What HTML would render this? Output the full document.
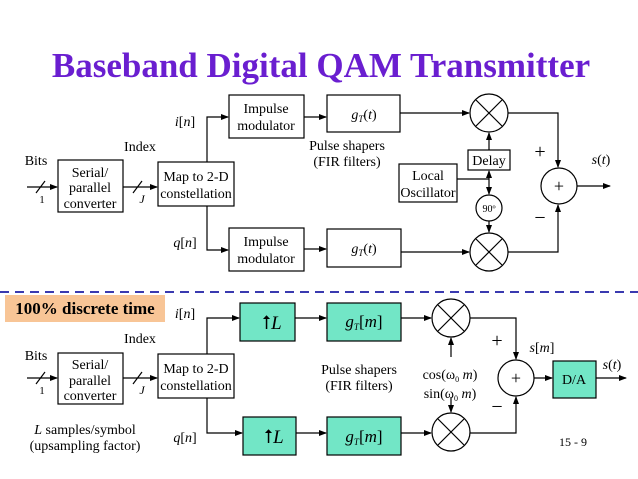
<!DOCTYPE html>
<html><head><meta charset="utf-8"><style>
body{margin:0;background:#fff}
svg{display:block;font-family:"Liberation Serif",serif}
</style></head><body>
<svg width="638" height="479" viewBox="0 0 638 479" xmlns="http://www.w3.org/2000/svg">
<defs><marker id="a" markerWidth="8" markerHeight="6" refX="7" refY="3" orient="auto" markerUnits="userSpaceOnUse"><path d="M0,0 L8,3 L0,6z" fill="#000"/></marker></defs>
<text x="321" y="77" text-anchor="middle" font-size="35" font-weight="bold" fill="#6a1ed0">Baseband Digital QAM Transmitter</text>
<g stroke="#000" stroke-width="1.2" fill="none">
<!-- top -->
<line x1="27" y1="187" x2="57" y2="187" marker-end="url(#a)"/><line x1="36" y1="193" x2="45" y2="181"/>
<rect x="58" y="160" width="65" height="52" fill="#fff"/>
<line x1="123" y1="187" x2="157" y2="187" marker-end="url(#a)"/><line x1="133" y1="193" x2="142" y2="181"/>
<rect x="158" y="162" width="76" height="44"/>
<polyline points="207,162 207,117 228,117" marker-end="url(#a)"/>
<polyline points="207,206 207,250 228,250" marker-end="url(#a)"/>
<rect x="229" y="95" width="75" height="43"/><rect x="229" y="228" width="75" height="43"/>
<line x1="304" y1="117" x2="326" y2="117" marker-end="url(#a)"/>
<line x1="304" y1="249" x2="326" y2="249" marker-end="url(#a)"/>
<rect x="327" y="95" width="73" height="37"/><rect x="327" y="229" width="74" height="38"/>
<line x1="400" y1="113" x2="469" y2="113" marker-end="url(#a)"/>
<line x1="401" y1="252" x2="469" y2="252" marker-end="url(#a)"/>
<circle cx="489" cy="113" r="19"/><line x1="476" y1="100" x2="502" y2="126"/><line x1="502" y1="100" x2="476" y2="126"/>
<circle cx="489" cy="252" r="19"/><line x1="476" y1="239" x2="502" y2="265"/><line x1="502" y1="239" x2="476" y2="265"/>
<rect x="468" y="150" width="42" height="20"/>
<rect x="399" y="164" width="58" height="38"/>
<polyline points="457,179 489,179"/>
<line x1="489" y1="179" x2="489" y2="171" marker-end="url(#a)"/>
<line x1="489" y1="150" x2="489" y2="133" marker-end="url(#a)"/>
<line x1="489" y1="179" x2="489" y2="194" marker-end="url(#a)"/>
<circle cx="489" cy="208" r="13"/>
<line x1="489" y1="221" x2="489" y2="232" marker-end="url(#a)"/>
<polyline points="508,113 558,113 558,167" marker-end="url(#a)"/>
<polyline points="508,252 558,252 558,205" marker-end="url(#a)"/>
<circle cx="559" cy="186" r="18"/>
<line x1="577" y1="186" x2="610" y2="186" marker-end="url(#a)"/>
</g>
<line x1="0" y1="292" x2="638" y2="292" stroke="#3a3ab0" stroke-width="2" stroke-dasharray="9,6"/>
<g stroke="#000" stroke-width="1.2" fill="none">
<line x1="27" y1="378" x2="57" y2="378" marker-end="url(#a)"/><line x1="36" y1="384" x2="45" y2="372"/>
<rect x="58" y="353" width="65" height="51"/>
<line x1="123" y1="378" x2="157" y2="378" marker-end="url(#a)"/><line x1="133" y1="384" x2="142" y2="372"/>
<rect x="158" y="354" width="76" height="44"/>
<polyline points="207,354 207,318 239,318" marker-end="url(#a)"/>
<polyline points="207,398 207,433 242,433" marker-end="url(#a)"/>
<rect x="240" y="303" width="55" height="38" fill="#72e6c6"/>
<rect x="243" y="417" width="53" height="38" fill="#72e6c6"/>
<line x1="295" y1="318" x2="326" y2="318" marker-end="url(#a)"/>
<line x1="296" y1="433" x2="326" y2="433" marker-end="url(#a)"/>
<rect x="327" y="303" width="74" height="38" fill="#72e6c6"/>
<rect x="327" y="417" width="74" height="38" fill="#72e6c6"/>
<line x1="401" y1="318" x2="431" y2="318" marker-end="url(#a)"/>
<line x1="401" y1="433" x2="431" y2="433" marker-end="url(#a)"/>
<circle cx="451" cy="318" r="19"/><line x1="438" y1="305" x2="464" y2="331"/><line x1="464" y1="305" x2="438" y2="331"/>
<circle cx="451" cy="432" r="19"/><line x1="438" y1="419" x2="464" y2="445"/><line x1="464" y1="419" x2="438" y2="445"/>
<line x1="451" y1="357" x2="451" y2="338" marker-end="url(#a)"/>
<line x1="451" y1="398" x2="451" y2="412" marker-end="url(#a)"/>
<polyline points="470,318 516,318 516,359" marker-end="url(#a)"/>
<polyline points="470,433 516,433 516,397" marker-end="url(#a)"/>
<circle cx="516" cy="378" r="18"/>
<line x1="534" y1="378" x2="552" y2="378" marker-end="url(#a)"/>
<rect x="553" y="361" width="43" height="37" fill="#72e6c6"/>
<line x1="596" y1="378" x2="626" y2="378" marker-end="url(#a)"/>
</g>
<rect x="5" y="295" width="160" height="27" fill="#f8c596"/>
<g font-size="14" text-anchor="middle">
<text x="36" y="165">Bits</text><text x="42" y="203" font-size="11">1</text>
<text x="90" y="177">Serial/</text><text x="90" y="192">parallel</text><text x="90" y="208">converter</text>
<text x="140" y="151">Index</text><text x="142" y="203" font-style="italic" font-size="12">J</text>
<text x="196" y="181">Map to 2-D</text><text x="196" y="198">constellation</text>
<text x="185" y="126" font-style="italic">i<tspan font-style="normal">[</tspan>n<tspan font-style="normal">]</tspan></text>
<text x="185" y="247" font-style="italic">q<tspan font-style="normal">[</tspan>n<tspan font-style="normal">]</tspan></text>
<text x="266" y="113">Impulse</text><text x="266" y="130">modulator</text>
<text x="266" y="246">Impulse</text><text x="266" y="263">modulator</text>
<text x="364" y="119" font-style="italic">g<tspan font-size="9" dy="3">T</tspan><tspan dy="-3" font-style="normal">(</tspan>t<tspan font-style="normal">)</tspan></text>
<text x="364" y="253" font-style="italic">g<tspan font-size="9" dy="3">T</tspan><tspan dy="-3" font-style="normal">(</tspan>t<tspan font-style="normal">)</tspan></text>
<text x="347" y="150">Pulse shapers</text><text x="347" y="166">(FIR filters)</text>
<text x="489" y="165">Delay</text>
<text x="428" y="180">Local</text><text x="428" y="197">Oscillator</text>
<text x="489" y="212" font-size="10">90º</text>
<text x="559" y="192" font-size="18">+</text>
<text x="540" y="158" font-size="20">+</text><text x="540" y="224" font-size="20">−</text>
<text x="601" y="164"><tspan font-style="italic">s</tspan>(<tspan font-style="italic">t</tspan>)</text>
<text x="85" y="314" font-size="17" font-weight="bold">100% discrete time</text>
<text x="185" y="318" font-style="italic">i<tspan font-style="normal">[</tspan>n<tspan font-style="normal">]</tspan></text>
<text x="185" y="442" font-style="italic">q<tspan font-style="normal">[</tspan>n<tspan font-style="normal">]</tspan></text>
<text x="140" y="343">Index</text><text x="36" y="360">Bits</text><text x="42" y="394" font-size="11">1</text>
<text x="90" y="369">Serial/</text><text x="90" y="385">parallel</text><text x="90" y="400">converter</text>
<text x="142" y="394" font-style="italic" font-size="12">J</text>
<text x="196" y="373">Map to 2-D</text><text x="196" y="390">constellation</text>
<text x="85" y="434"><tspan font-style="italic">L</tspan> samples/symbol</text><text x="85" y="450">(upsampling factor)</text>
<text x="272" y="329" font-size="19">⭡<tspan font-style="italic">L</tspan></text>
<text x="274" y="443" font-size="19">⭡<tspan font-style="italic">L</tspan></text>
<text x="364" y="327" font-size="17" font-style="italic">g<tspan font-size="9" dy="3">T</tspan><tspan dy="-3" font-style="normal">[</tspan>m<tspan font-style="normal">]</tspan></text>
<text x="364" y="442" font-size="17" font-style="italic">g<tspan font-size="9" dy="3">T</tspan><tspan dy="-3" font-style="normal">[</tspan>m<tspan font-style="normal">]</tspan></text>
<text x="359" y="374">Pulse shapers</text><text x="359" y="390">(FIR filters)</text>
<text x="450" y="379">cos(ω<tspan font-size="8" dy="3">0</tspan><tspan dy="-3" font-style="italic"> m</tspan>)</text>
<text x="450" y="398">sin(ω<tspan font-size="8" dy="3">0</tspan><tspan dy="-3" font-style="italic"> m</tspan>)</text>
<text x="516" y="384" font-size="18">+</text>
<text x="497" y="347" font-size="20">+</text><text x="497" y="413" font-size="20">−</text>
<text x="542" y="352"><tspan font-style="italic">s</tspan>[<tspan font-style="italic">m</tspan>]</text>
<text x="574" y="384">D/A</text>
<text x="612" y="369"><tspan font-style="italic">s</tspan>(<tspan font-style="italic">t</tspan>)</text>
<text x="573" y="446" font-size="12">15 - 9</text>
</g>
</svg>
</body></html>
